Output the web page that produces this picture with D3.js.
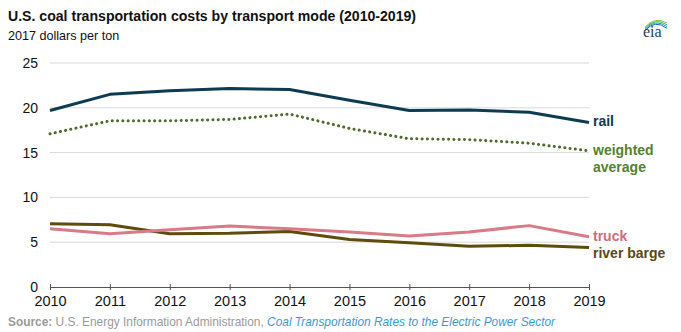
<!DOCTYPE html>
<html>
<head>
<meta charset="utf-8">
<script src="https://cdn.jsdelivr.net/npm/d3@7"></script>
<style>
  body { margin: 0; background: #fff; font-family: "Liberation Sans", Arial, sans-serif; }
  svg { display: block; }
</style>
</head>
<body>
<div id="chart"></div>
<script>
// coal transport costs, 2017 dollars per ton
var years = [2010, 2011, 2012, 2013, 2014, 2015, 2016, 2017, 2018, 2019];
var rail = [19.7, 21.5, 21.9, 22.15, 22.05, 20.85, 19.7, 19.75, 19.5, 18.35];
var weighted = [17.1, 18.55, 18.55, 18.7, 19.3, 17.7, 16.55, 16.45, 16.05, 15.2];
var truck = [6.5, 5.95, 6.4, 6.8, 6.5, 6.15, 5.7, 6.15, 6.85, 5.6];
var barge = [7.05, 6.95, 5.95, 6.0, 6.2, 5.3, 4.95, 4.55, 4.65, 4.4];
var yTicks = [0, 5, 10, 15, 20, 25];

var width = 681, height = 332;
var margin = { top: 63, right: 92, bottom: 45, left: 50 };

var svg = d3.select('#chart').append('svg')
  .attr('width', width)
  .attr('height', height);

var x = d3.scaleLinear().domain([2010, 2019]).range([margin.left, width - margin.right]);
var y = d3.scaleLinear().domain([0, 25]).range([height - margin.bottom, margin.top]);

// title block
svg.append('text').attr('x', 8).attr('y', 21)
  .attr('font-size', 14.1).attr('font-weight', 'bold').attr('fill', '#111')
  .text('U.S. coal transportation costs by transport mode (2010-2019)');
svg.append('text').attr('x', 8).attr('y', 40)
  .attr('font-size', 12.6).attr('fill', '#111')
  .text('2017 dollars per ton');

// eia logo
var logo = svg.append('g').attr('transform', 'translate(643,17)');
[['#8dc63f', 0], ['#39b54a', 2], ['#2aa0c8', 4], ['#0e6fa8', 6]].forEach(function(a) {
  logo.append('path')
    .attr('d', 'M2,' + (10 + a[1] * 0.6) + ' Q12,' + (a[1] * 0.5 - 1) + ' 24,' + (6 + a[1] * 0.9))
    .attr('fill', 'none').attr('stroke', a[0]).attr('stroke-width', 1);
});
logo.append('text').attr('x', 0).attr('y', 20)
  .attr('font-family', '"Liberation Serif", "DejaVu Serif", serif')
  .attr('font-size', 16).attr('fill', '#1d3f5a')
  .text('eia');

// gridlines
svg.append('g').selectAll('line')
  .data(yTicks.filter(function(d) { return d > 0; }))
  .enter().append('line')
  .attr('x1', margin.left).attr('x2', width - margin.right)
  .attr('y1', function(d) { return y(d); }).attr('y2', function(d) { return y(d); })
  .attr('stroke', '#d9d9d9').attr('stroke-width', 1);

// y labels
svg.append('g').selectAll('text')
  .data(yTicks)
  .enter().append('text')
  .attr('x', 38).attr('y', function(d) { return y(d) + 5; })
  .attr('text-anchor', 'end').attr('font-size', 14).attr('fill', '#111')
  .text(function(d) { return d; });

// x axis
var xAxis = svg.append('g')
  .attr('transform', 'translate(0,' + y(0) + ')')
  .call(d3.axisBottom(x).tickValues(years).tickFormat(d3.format('d')).tickSize(3).tickPadding(6));
xAxis.select('.domain').attr('stroke', '#555');
xAxis.selectAll('.tick line').attr('stroke', '#555').attr('y1', -3);
xAxis.selectAll('.tick text')
  .attr('font-family', '"Liberation Sans", Arial, sans-serif')
  .attr('font-size', 14.5).attr('fill', '#111');

var line = d3.line()
  .x(function(d, i) { return x(years[i]); })
  .y(function(d) { return y(d); });

var series = [
  { values: barge, color: '#5e4c0c', dash: null },
  { values: truck, color: '#d87a87', dash: null },
  { values: weighted, color: '#4e6b2c', dash: '0.1 5.2' },
  { values: rail, color: '#0d3b52', dash: null }
];

svg.append('g').selectAll('path')
  .data(series)
  .enter().append('path')
  .attr('d', function(d) { return line(d.values); })
  .attr('fill', 'none')
  .attr('stroke', function(d) { return d.color; })
  .attr('stroke-width', 3)
  .attr('stroke-linejoin', 'round')
  .attr('stroke-linecap', function(d) { return d.dash ? 'round' : 'butt'; })
  .attr('stroke-dasharray', function(d) { return d.dash; });

// end labels
var labels = [
  { text: ['rail'], y: 126, color: '#0d3b52' },
  { text: ['weighted', 'average'], y: 155, color: '#55822f' },
  { text: ['truck'], y: 241, color: '#d06d7c' },
  { text: ['river barge'], y: 258, color: '#5a4913' }
];
labels.forEach(function(l) {
  l.text.forEach(function(t, i) {
    svg.append('text')
      .attr('x', 593).attr('y', l.y + i * 17)
      .attr('font-size', 14).attr('font-weight', 'bold').attr('fill', l.color)
      .text(t);
  });
});

// source line
var src = svg.append('text').attr('x', 8).attr('y', 326)
  .attr('font-size', 11.9).attr('fill', '#9a9a9a');
src.append('tspan').attr('font-weight', 'bold').text('Source:');
src.append('tspan').text(' U.S. Energy Information Administration, ');
src.append('tspan').attr('font-style', 'italic').attr('fill', '#3a9bd0')
  .text('Coal Transportation Rates to the Electric Power Sector');
</script>
</body>
</html>
